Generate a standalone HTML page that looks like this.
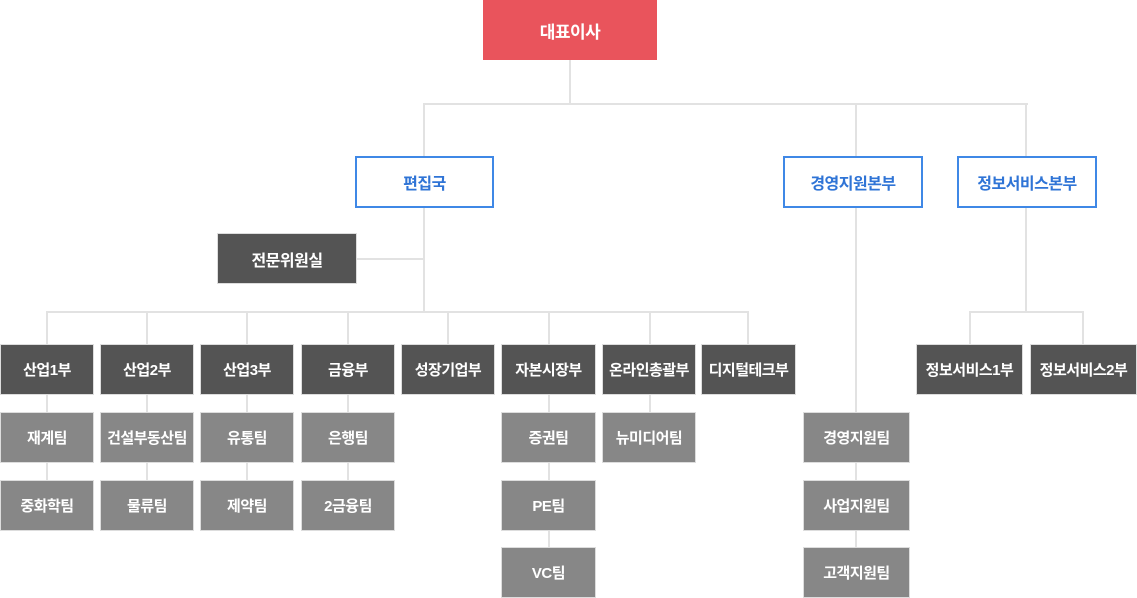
<!DOCTYPE html>
<html><head><meta charset="utf-8"><style>
body{margin:0;width:1137px;height:598px;background:#fff;position:relative;overflow:hidden;font-family:"Liberation Sans","Noto Sans CJK KR",sans-serif;}
.b{position:absolute;display:flex;align-items:center;justify-content:center;color:#fff;font-size:15px;font-weight:bold;box-sizing:border-box;letter-spacing:-0.5px}
.r{background:#e9545c;font-size:17px}
.u{background:#fff;border:2px solid #3f88e6;color:#2f74d6;font-size:16px}
.d{background:#545454;border:1px solid #ddd}
.g{background:#878787;border:1px solid #ddd}
.h{position:absolute;height:2px;background:#e2e2e2}
.v{position:absolute;width:2px;background:#e2e2e2}
</style></head><body>
<!-- lines -->
<div class="v" style="left:569px;top:60px;height:44px"></div>
<div class="h" style="left:423px;top:103px;width:605px"></div>
<div class="v" style="left:423px;top:103px;height:54px"></div>
<div class="v" style="left:855px;top:103px;height:54px"></div>
<div class="v" style="left:1025px;top:103px;height:54px"></div>
<div class="v" style="left:423px;top:207px;height:106px"></div>
<div class="h" style="left:356px;top:258px;width:68px"></div>
<div class="h" style="left:46px;top:311px;width:703px"></div>
<div class="v" style="left:46px;top:311px;height:200px"></div>
<div class="v" style="left:146px;top:311px;height:200px"></div>
<div class="v" style="left:246px;top:311px;height:200px"></div>
<div class="v" style="left:347px;top:311px;height:200px"></div>
<div class="v" style="left:447px;top:311px;height:34px"></div>
<div class="v" style="left:548px;top:311px;height:260px"></div>
<div class="v" style="left:649px;top:311px;height:120px"></div>
<div class="v" style="left:747px;top:311px;height:34px"></div>
<div class="v" style="left:855px;top:207px;height:370px"></div>
<div class="v" style="left:1025px;top:207px;height:105px"></div>
<div class="h" style="left:969px;top:311px;width:115px"></div>
<div class="v" style="left:969px;top:311px;height:34px"></div>
<div class="v" style="left:1082px;top:311px;height:34px"></div>
<!-- boxes -->
<div class="b r" style="left:483px;top:0;width:174px;height:60px">대표이사</div>
<div class="b u" style="left:355px;top:156px;width:139px;height:52px">편집국</div>
<div class="b u" style="left:783px;top:156px;width:140px;height:52px">경영지원본부</div>
<div class="b u" style="left:957px;top:156px;width:140px;height:52px">정보서비스본부</div>
<div class="b d" style="left:217px;top:233px;width:140px;height:51px;font-size:16px">전문위원실</div>

<div class="b d" style="left:0;top:344px;width:94px;height:51px">산업1부</div>
<div class="b d" style="left:100px;top:344px;width:94px;height:51px">산업2부</div>
<div class="b d" style="left:200px;top:344px;width:94px;height:51px">산업3부</div>
<div class="b d" style="left:301px;top:344px;width:94px;height:51px">금융부</div>
<div class="b d" style="left:401px;top:344px;width:94px;height:51px">성장기업부</div>
<div class="b d" style="left:501px;top:344px;width:95px;height:51px">자본시장부</div>
<div class="b d" style="left:602px;top:344px;width:94px;height:51px">온라인총괄부</div>
<div class="b d" style="left:701px;top:344px;width:95px;height:51px">디지털테크부</div>
<div class="b d" style="left:916px;top:344px;width:107px;height:51px">정보서비스1부</div>
<div class="b d" style="left:1030px;top:344px;width:107px;height:51px">정보서비스2부</div>

<div class="b g" style="left:0;top:412px;width:94px;height:51px">재계팀</div>
<div class="b g" style="left:100px;top:412px;width:94px;height:51px">건설부동산팀</div>
<div class="b g" style="left:200px;top:412px;width:94px;height:51px">유통팀</div>
<div class="b g" style="left:301px;top:412px;width:94px;height:51px">은행팀</div>
<div class="b g" style="left:501px;top:412px;width:95px;height:51px">증권팀</div>
<div class="b g" style="left:602px;top:412px;width:94px;height:51px">뉴미디어팀</div>
<div class="b g" style="left:803px;top:412px;width:107px;height:51px">경영지원팀</div>

<div class="b g" style="left:0;top:480px;width:94px;height:51px">중화학팀</div>
<div class="b g" style="left:100px;top:480px;width:94px;height:51px">물류팀</div>
<div class="b g" style="left:200px;top:480px;width:94px;height:51px">제약팀</div>
<div class="b g" style="left:301px;top:480px;width:94px;height:51px">2금융팀</div>
<div class="b g" style="left:501px;top:480px;width:95px;height:51px">PE팀</div>
<div class="b g" style="left:803px;top:480px;width:107px;height:51px">사업지원팀</div>

<div class="b g" style="left:501px;top:547px;width:95px;height:51px">VC팀</div>
<div class="b g" style="left:803px;top:547px;width:107px;height:51px">고객지원팀</div>
</body></html>
